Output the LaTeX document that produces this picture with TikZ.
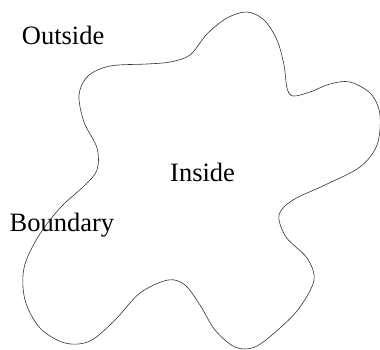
\documentclass[tikz,border=0pt]{standalone}
\usepackage{fontspec}
\setmainfont{Liberation Serif}
\usepackage{tikz}
\tikzset{
    region/.style={line width=0.6pt, black!80},
    label/.style={anchor=base west, inner sep=0pt, font=\fontsize{26.5}{30}\selectfont}
}

\begin{document}
\begin{tikzpicture}[x=1pt, y=-1pt]
    \useasboundingbox (0,0) rectangle (380,350);
    % Randkurve des Gebiets
    \draw[region] plot[smooth cycle, tension=0.55] coordinates {
        (247,12) (227,18) (207,34) (190,55) (170,62) (147,64) (110,66)
        (88,76) (79,95) (84,122) (97,148) (97,170) (84,186) (60,208)
        (38,237) (24,268) (25,300) (40,328) (65,343) (90,341) (115,320)
        (140,293) (168,280) (185,285) (200,305) (215,330) (235,347)
        (255,347) (280,328) (300,307) (314,280) (307,258) (286,237)
        (279,215) (293,200) (325,185) (360,167) (377,145) (380,115)
        (371,94) (350,82) (330,84) (310,92) (293,96) (287,88) (284,65)
        (277,40) (264,20)};
    % Beschriftungen
    \node[label] (outside) at (21.7,44.3) {Outside};
    \node[label] (inside) at (170,181.7) {Inside};
    \node[label] (boundary) at (9.5,231) {Boundary};
\end{tikzpicture}
\end{document}
